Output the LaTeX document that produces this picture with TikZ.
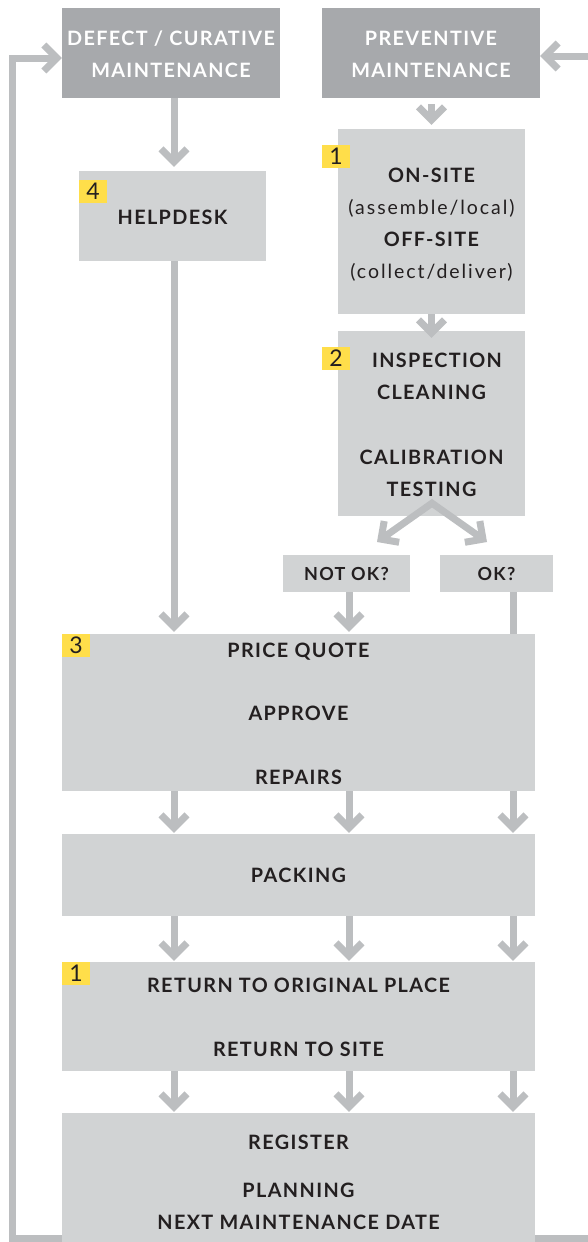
\documentclass[tikz,border=0pt]{standalone}
\usepackage{fontspec}
\setmainfont{Lato}
\newfontfamily\spaced[LetterSpace=7]{Lato}
\newfontfamily\spacedr[LetterSpace=10]{Lato}
\usetikzlibrary{arrows.meta}
\definecolor{darkbox}{HTML}{A7A9AC}
\definecolor{lightbox}{HTML}{D1D3D4}
\definecolor{linec}{HTML}{BCBEC0}
\definecolor{badgec}{HTML}{FFDE4A}
\definecolor{txt}{HTML}{231F20}
\tikzset{
  hbox/.style={fill=darkbox, draw=none, inner sep=0pt},
  lbox/.style={fill=lightbox, draw=none, inner sep=0pt},
  tb/.style={font=\spaced\bfseries\fontsize{19.8}{22}\selectfont, text=txt, text height=14pt, text depth=0pt, inner sep=0pt},
  tr/.style={font=\spacedr\fontsize{19.5}{22}\selectfont, text=txt, text height=14pt, text depth=0pt, inner sep=0pt},
  ts/.style={font=\spaced\bfseries\fontsize{18}{20}\selectfont, text=txt, text height=13pt, text depth=0pt, inner sep=0pt},
  hw/.style={font=\spaced\bfseries\fontsize{19.8}{22}\selectfont, text=white, text height=14pt, text depth=0pt, inner sep=0pt},
  badge/.style={fill=badgec, draw=none, minimum width=28pt, minimum height=23pt, inner sep=0pt, font=\fontsize{23}{23}\selectfont, text=txt},
  conn/.style={draw=linec, line width=7pt, line join=miter},
  arr/.style={conn, -{Straight Barb[length=13pt, width=26pt, line join=miter]}},
  arrb/.style={conn, {Straight Barb[length=13pt, width=26pt, line join=miter]}-{Straight Barb[length=13pt, width=26pt, line join=miter]}},
}
\begin{document}
\begin{tikzpicture}[x=1pt,y=-1pt]
\fill[white] (0,0) rectangle (588,1242);
\useasboundingbox (0,0) rectangle (588,1242);

% column coordinates
\coordinate (cA) at (174,0);
\coordinate (cB) at (349,0);
\coordinate (cC) at (513,0);
\coordinate (cP) at (431.5,0);
\coordinate (lfar) at (12,0);
\coordinate (rfar) at (600,0);

% header boxes
\node[hbox, minimum width=218pt, minimum height=90pt] (defect) at (171,53) {};
\node[hw] (defectA) at (171,38) {DEFECT / CURATIVE};
\node[hw] (defectB) at (171,70) {MAINTENANCE};
\node[hbox, minimum width=218pt, minimum height=90pt] (prev) at (431,53) {};
\node[hw] (prevA) at (431,38) {PREVENTIVE};
\node[hw] (prevB) at (431,70) {MAINTENANCE};

% helpdesk
\node[lbox, minimum width=187pt, minimum height=90pt] (help) at (172.5,216) {};
\node[tb] (helpT) at (172.5,217) {HELPDESK};
\node[badge] (b4) at (93,191) {4};

% box 1
\node[lbox, minimum width=187pt, minimum height=185pt] (site) at (431.5,221.5) {};
\node[tb] (siteA) at (431.5,175) {ON-SITE};
\node[tr] (siteB) at (431.5,207) {(assemble/local)};
\node[tb] (siteC) at (431.5,239) {OFF-SITE};
\node[tr] (siteD) at (431.5,271) {(collect/deliver)};
\node[badge] (b1a) at (336,156) {1};

% box 2
\node[lbox, minimum width=187pt, minimum height=185pt] (insp) at (431.5,423.5) {};
\node[tb] (inspA) at (437,360) {INSPECTION};
\node[tb] (inspB) at (431.5,392) {CLEANING};
\node[tb] (inspC) at (431.5,457) {CALIBRATION};
\node[tb] (inspD) at (431.5,489) {TESTING};
\node[badge] (b2) at (336,358.5) {2};

% decision boxes
\node[lbox, minimum width=127pt, minimum height=37pt] (notok) at (346.5,573.5) {};
\node[ts] (notokT) at (346.5,574) {NOT OK?};
\node[lbox, minimum width=113pt, minimum height=37pt] (ok) at (496.5,573.5) {};
\node[ts] (okT) at (496.5,574) {OK?};

% price box
\node[lbox, minimum width=473pt, minimum height=157pt] (price) at (298.5,712.5) {};
\node[tb] (priceA) at (298.5,650) {PRICE QUOTE};
\node[tb] (priceB) at (298.5,713) {APPROVE};
\node[tb] (priceC) at (298.5,777) {REPAIRS};
\node[badge] (b3) at (76,645) {3};

% packing
\node[lbox, minimum width=473pt, minimum height=82pt] (pack) at (298.5,875) {};
\node[tb] (packT) at (298.5,875) {PACKING};

% return
\node[lbox, minimum width=473pt, minimum height=109pt] (ret) at (298.5,1016.5) {};
\node[tb] (retA) at (298.5,985) {RETURN TO ORIGINAL PLACE};
\node[tb] (retB) at (298.5,1049) {RETURN TO SITE};
\node[badge] (b1b) at (76,973.5) {1};

% register
\node[lbox, minimum width=473pt, minimum height=129pt] (reg) at (298.5,1177.5) {};
\node[tb] (regA) at (298.5,1142) {REGISTER};
\node[tb] (regB) at (298.5,1190) {PLANNING};
\node[tb] (regC) at (298.5,1222) {NEXT MAINTENANCE DATE};

% connectors
\draw[arr, shorten >=4pt] (defect.south -| cA) -- (help.north -| cA);
\draw[arr, shorten <=6pt, shorten >=4pt] (prev.south -| cP) -- (site.north -| cP);
\draw[arr, shorten >=-7pt] (site.south -| cP) -- (insp.north -| cP);
\draw[arr, shorten >=2pt] (help.south -| cA) -- (price.north -| cA);

\coordinate (apex) at ([yshift=13pt]insp.south -| 432,0);
\coordinate (tipL) at (377,542);
\coordinate (tipR) at (487,542);
\draw[arrb] (tipL) -- (apex) -- (tipR);

\draw[arr, shorten >=2pt] (notok.south -| cB) -- (price.north -| cB);
\draw[conn] (ok.south -| cC) -- (price.north -| cC);

\foreach \c in {cA,cB,cC}{
  \draw[arr, shorten >=1pt] (price.south -| \c) -- (pack.north -| \c);
  \draw[arr, shorten >=1pt] (pack.south -| \c) -- (ret.north -| \c);
  \draw[arr, shorten >=1pt] (ret.south -| \c) -- (reg.north -| \c);
}

% feedback loops
\draw[arr] ([yshift=4pt]reg.south west) -- ([yshift=4pt]reg.south west -| lfar) -- ([yshift=-5pt]lfar |- defect.west) -- ([yshift=-5pt]defect.west);
\draw[arr] ([yshift=4pt]reg.south east) -- ([yshift=4pt]reg.south east -| rfar) -- ([yshift=-3pt]rfar |- prev.east) -- ([yshift=-3pt]prev.east);
\end{tikzpicture}
\end{document}
